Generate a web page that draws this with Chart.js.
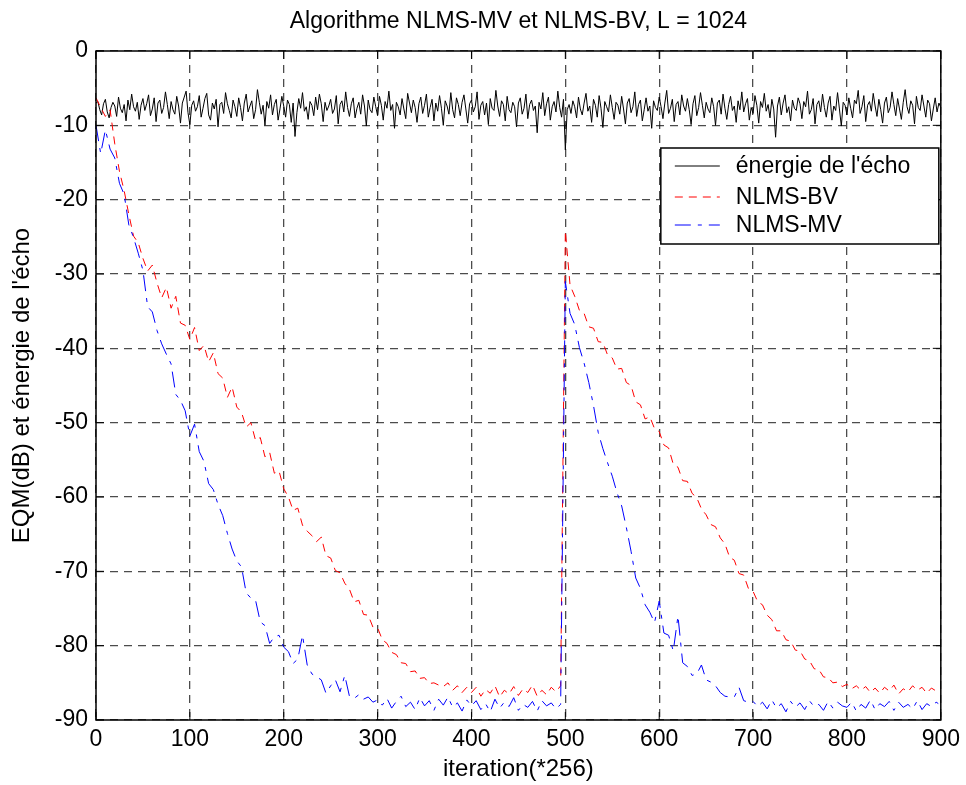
<!DOCTYPE html>
<html>
<head>
<meta charset="utf-8">
<script src="https://cdn.jsdelivr.net/npm/chart.js@4"></script>
<style>
  html, body { margin: 0; padding: 0; background: #fff; }
  #wrap { width: 966px; height: 785px; }
</style>
</head>
<body>
<div id="wrap"><canvas id="eqm"></canvas></div>
<script>
// sampling steps (iterations between stored points)
const STEP_ECHO = 2;
const STEP_EQM = 5;

const TITLE = 'Algorithme NLMS-MV et NLMS-BV, L = 1024';

// echo energy, dB (iter 0..900, every 2)
const echoDb = [
  -7.0, -6.8, -7.9, -8.6, -7.1, -6.5, -8.2, -9.0, -7.6, -6.9, -7.4, -8.8, -6.2, -7.7, -8.3, -7.2, -9.4, -6.6, -7.9, -5.8, -7.5, -8.1, -6.9, -9.2, -7.3,
  -6.4, -8.0, -7.1, -5.9, -8.7, -7.8, -6.3, -9.5, -7.0, -6.6, -8.4, -7.6, -5.5, -7.2, -9.1, -6.8, -7.9, -8.5, -6.1, -7.4, -9.7, -7.0, -6.2, -5.4, -8.3,
  -9.9, -7.3, -6.7, -8.1, -7.5, -6.0, -8.9, -7.7, -6.4, -5.7, -8.6, -9.3, -7.0, -7.8, -6.5, -10.2, -7.2, -6.9, -8.4, -5.6, -7.1, -8.0, -9.0, -6.6, -7.5,
  -8.8, -6.3, -7.6, -9.4, -7.0, -5.8, -8.2, -7.4, -6.7, -9.1, -7.9, -5.2, -6.9, -8.5, -7.3, -10.0, -6.8, -7.7, -5.9, -8.6, -7.2, -6.5, -9.3, -7.8, -6.1,
  -7.4, -8.9, -6.6, -7.2, -9.6, -7.0, -11.5, -8.3, -6.4, -7.7, -5.6, -8.1, -7.5, -9.2, -6.8, -7.3, -8.7, -6.2, -7.9, -5.8, -7.1, -9.5, -6.9, -8.0, -7.4,
  -6.5, -8.4, -7.8, -6.0, -9.8, -7.2, -6.7, -8.2, -5.5, -7.6, -8.8, -7.1, -6.3, -9.0, -7.7, -6.9, -8.5, -5.9, -7.4, -10.1, -6.6, -7.9, -8.3, -6.2, -7.5,
  -8.7, -6.1, -7.3, -9.3, -6.8, -7.7, -5.4, -8.0, -7.2, -10.4, -6.9, -7.5, -8.6, -6.4, -7.8, -9.1, -5.7, -7.0, -8.3, -6.6, -7.6, -9.6, -7.1, -6.2, -8.4,
  -7.3, -5.8, -8.9, -7.6, -6.5, -9.4, -7.0, -8.1, -6.0, -7.7, -10.0, -6.7, -7.4, -8.5, -5.6, -7.9, -9.0, -6.3, -7.2, -8.7, -6.9, -5.9, -7.8, -9.7, -7.1,
  -6.6, -8.2, -7.5, -5.5, -9.2, -7.3, -6.8, -8.6, -7.0, -9.9, -6.4, -7.7, -8.0, -5.3, -7.4, -8.8, -6.7, -7.2, -9.4, -6.1, -7.9, -8.3, -6.9, -7.5, -10.2,
  -7.0, -6.3, -8.5, -7.7, -5.8, -9.1, -7.2, -6.6, -8.0, -7.4, -11.0, -6.9, -7.8, -5.6, -8.7, -7.1, -6.2, -9.3, -7.5, -6.8, -8.2, -5.4, -7.6, -8.9, -6.5,
  -13.3, -7.9, -7.2, -8.4, -6.7, -7.5, -9.0, -6.2, -7.8, -8.6, -7.0, -5.7, -8.1, -7.4, -9.6, -6.5, -7.3, -8.9, -6.0, -7.7, -10.3, -6.8, -7.5, -8.2, -5.9,
  -7.6, -9.2, -6.9, -7.3, -8.5, -6.1, -7.8, -9.8, -7.0, -6.4, -8.3, -7.5, -5.5, -8.8, -7.2, -6.6, -9.4, -7.9, -6.3, -8.1, -7.4, -10.4, -6.7, -7.6, -8.0,
  -6.2, -7.5, -9.1, -7.0, -5.3, -8.4, -7.7, -6.5, -9.5, -7.2, -6.8, -8.6, -5.9, -7.4, -8.1, -6.4, -7.9, -9.9, -7.1, -6.0, -8.7, -7.6, -5.6, -7.3, -9.0,
  -6.9, -7.8, -8.3, -6.3, -7.5, -10.0, -7.0, -6.6, -8.5, -5.8, -7.7, -9.2, -7.2, -6.1, -8.0, -7.4, -9.6, -6.7, -7.9, -5.5, -8.2, -7.1, -6.4, -9.3, -7.6,
  -8.4, -6.0, -7.3, -9.7, -6.8, -7.6, -5.7, -8.1, -7.2, -9.0, -6.5, -7.8, -11.6, -7.4, -6.2, -8.6, -7.0, -5.9, -8.3, -7.5, -9.4, -6.6, -7.7, -8.0, -6.3,
  -7.1, -9.1, -6.8, -7.5, -5.4, -8.5, -7.9, -6.4, -9.8, -7.2, -6.7, -8.2, -5.8, -7.6, -8.9, -7.0, -6.1, -9.3, -7.4, -8.0, -5.6, -7.8, -10.1, -6.9, -7.3,
  -8.6, -6.3, -7.7, -9.0, -6.6, -7.1, -5.3, -8.4, -7.5, -6.0, -9.5, -7.3, -6.8, -8.1, -5.7, -7.4, -8.8, -6.5, -7.9, -9.7, -7.0, -6.2, -8.3, -7.6, -5.5,
  -7.2, -8.7, -6.4, -7.8, -9.2, -6.9, -5.2, -7.5, -8.4, -6.7, -7.3, -9.8, -6.1, -7.6, -8.0, -5.9, -7.4, -8.9, -6.6, -7.1, -9.4, -7.8, -6.3, -8.2, -7.0,
  -7.6
];

// NLMS-BV error, dB (iter 0..900, every 5)
const bvDb = [
  -6.3, -7.6, -8.8, -7.9, -12.5, -16.2, -18.8, -22.0, -24.9, -25.8, -27.9, -29.6, -28.8, -31.2, -33.2, -31.8, -34.6, -33.0, -36.6, -36.9,
  -38.8, -37.2, -40.3, -39.6, -41.8, -40.6, -43.4, -44.0, -46.6, -45.2, -47.9, -48.6, -50.6, -50.0, -52.4, -52.0, -54.6, -54.0, -56.8, -56.5,
  -58.9, -60.0, -61.8, -61.5, -63.8, -64.6, -65.2, -66.0, -65.4, -67.9, -68.2, -69.9, -70.2, -71.6, -72.4, -74.1, -73.9, -75.8, -75.9, -77.5,
  -77.6, -79.2, -79.7, -80.9, -81.2, -82.3, -82.4, -83.5, -83.4, -84.4, -84.3, -85.1, -85.0, -85.3, -85.5, -85.0, -86.0, -85.4, -86.3, -85.6,
  -86.3, -85.6, -86.8, -85.9, -86.4, -85.4, -86.9, -86.0, -86.5, -85.5, -86.7, -85.8, -86.3, -85.3, -86.8, -86.0, -86.6, -85.6, -86.2, -85.4,
  -24.2, -31.5, -33.0, -34.9, -35.3, -37.1, -37.3, -39.1, -39.2, -40.9, -41.3, -42.8, -42.7, -44.6, -45.0, -47.2, -47.6, -49.5, -49.2, -50.8,
  -51.2, -53.0, -53.4, -55.6, -56.0, -57.8, -57.9, -59.5, -60.1, -61.6, -62.4, -63.7, -64.0, -65.5, -66.3, -68.1, -68.5, -70.3, -70.5, -72.3,
  -72.7, -74.1, -74.5, -75.9, -76.5, -78.0, -78.0, -79.2, -79.4, -80.6, -80.7, -81.8, -82.0, -83.1, -83.2, -84.2, -84.3, -85.0, -84.9, -85.5,
  -85.2, -85.8, -85.4, -86.0, -85.5, -86.3, -85.7, -86.4, -85.6, -86.1, -85.3, -86.5, -85.8, -86.2, -85.4, -86.0, -85.6, -86.4, -85.7, -86.1,
  -85.8
];

// NLMS-MV error, dB (iter 0..900, every 5)
const mvDb = [
  -10.0, -13.8, -10.6, -13.2, -14.4, -17.8, -19.3, -23.4, -25.1, -27.2, -29.5, -34.4, -35.1, -37.6, -39.4, -40.8, -42.1, -46.2, -47.0, -48.4,
  -51.8, -50.2, -53.9, -55.2, -58.2, -59.0, -61.0, -62.5, -64.9, -67.0, -68.6, -69.4, -72.9, -73.6, -73.9, -76.8, -77.3, -79.7, -78.8, -78.6,
  -80.2, -80.8, -82.4, -81.8, -78.6, -82.6, -83.8, -84.2, -84.6, -86.4, -85.4, -84.6, -86.2, -84.0, -86.8, -87.1, -86.6, -87.2, -86.9, -87.6,
  -87.3, -88.0, -87.1, -88.4, -87.5, -86.8, -88.2, -87.6, -88.6, -87.0, -88.1, -87.4, -88.7, -87.2, -88.0, -86.9, -88.3, -87.7, -88.8, -87.3,
  -88.1, -87.4, -88.6, -87.8, -88.9, -87.2, -88.4, -87.6, -88.2, -87.0, -88.7, -87.9, -88.3, -87.5, -88.8, -87.4, -88.1, -87.7, -88.5, -87.9,
  -31.0, -35.3, -36.8, -39.9, -42.0, -44.6, -47.7, -51.3, -53.5, -55.4, -57.2, -59.4, -61.2, -64.1, -67.3, -70.9, -72.3, -74.5, -75.5, -76.9,
  -74.0, -78.3, -78.6, -80.7, -76.0, -82.3, -82.8, -84.0, -83.8, -82.6, -84.6, -84.9, -85.4, -86.3, -86.8, -86.9, -86.9, -85.6, -87.4, -87.6,
  -87.5, -88.2, -87.6, -88.5, -87.3, -88.4, -87.8, -88.9, -87.5, -88.3, -87.7, -88.6, -87.4, -88.2, -87.9, -88.7, -87.5, -88.4, -87.6, -88.1,
  -88.3, -87.6, -88.8, -87.9, -88.4, -87.3, -88.6, -87.8, -88.2, -87.5, -88.7, -87.6, -88.3, -87.9, -88.5, -87.4, -88.6, -87.8, -88.2, -87.6,
  -88.0
];

const FONT = "'Liberation Sans', Arial, sans-serif";

function toPoints(values, step) {
  return values.map((v, i) => ({ x: i * step, y: v }));
}

// title centred on the axes, box around the plot, inward ticks and the legend
const matlabFrame = {
  id: 'matlabFrame',
  afterDatasetsDraw(chart) {
    const { ctx, chartArea: a, scales } = chart;
    ctx.save();

    ctx.fillStyle = '#000';
    ctx.font = '23px ' + FONT;
    ctx.textAlign = 'center';
    ctx.textBaseline = 'middle';
    ctx.fillText(TITLE, (a.left + a.right) / 2, 22);

    ctx.strokeStyle = '#000';
    ctx.lineWidth = 1.5;
    ctx.setLineDash([]);
    ctx.strokeRect(a.left, a.top, a.right - a.left, a.bottom - a.top);

    ctx.lineWidth = 1;
    ctx.beginPath();
    scales.x.ticks.forEach(t => {
      const px = scales.x.getPixelForValue(t.value);
      ctx.moveTo(px, a.bottom); ctx.lineTo(px, a.bottom - 8);
      ctx.moveTo(px, a.top); ctx.lineTo(px, a.top + 8);
    });
    scales.y.ticks.forEach(t => {
      const py = scales.y.getPixelForValue(t.value);
      ctx.moveTo(a.left, py); ctx.lineTo(a.left + 8, py);
      ctx.moveTo(a.right, py); ctx.lineTo(a.right - 8, py);
    });
    ctx.stroke();

    // legend box, top right
    const bx = a.right - 280, by = a.top + 97, bw = 278, bh = 96;
    ctx.fillStyle = '#fff';
    ctx.fillRect(bx, by, bw, bh);
    ctx.lineWidth = 1.5;
    ctx.strokeRect(bx, by, bw, bh);
    ctx.font = '23px ' + FONT;
    ctx.textAlign = 'left';
    const rows = [18, 49, 77];
    chart.data.datasets.forEach((ds, i) => {
      const y = by + rows[i];
      ctx.strokeStyle = ds.borderColor;
      ctx.lineWidth = 1;
      ctx.setLineDash(ds.borderDash || []);
      ctx.beginPath();
      ctx.moveTo(bx + 14, y); ctx.lineTo(bx + 59, y);
      ctx.stroke();
      ctx.setLineDash([]);
      ctx.fillStyle = '#000';
      ctx.fillText(ds.label, bx + 75, y + 1);
    });
    ctx.restore();
  }
};

new Chart(document.getElementById('eqm'), {
  type: 'line',
  data: {
    datasets: [
      {
        label: "énergie de l'écho",
        data: toPoints(echoDb, STEP_ECHO),
        borderColor: '#000000',
        borderWidth: 1,
        order: 3
      },
      {
        label: 'NLMS-BV',
        data: toPoints(bvDb, STEP_EQM),
        borderColor: '#ff0000',
        borderWidth: 1,
        borderDash: [8, 6],
        order: 2
      },
      {
        label: 'NLMS-MV',
        data: toPoints(mvDb, STEP_EQM),
        borderColor: '#0000ff',
        borderWidth: 1,
        borderDash: [16, 7, 4, 7],
        order: 1
      }
    ]
  },
  options: {
    responsive: true,
    maintainAspectRatio: false,
    animation: false,
    events: [],
    elements: {
      point: { radius: 0 },
      line: { tension: 0 }
    },
    layout: {
      padding: { left: 0, right: 24, top: 51, bottom: 0 }
    },
    plugins: {
      legend: { display: false },
      tooltip: { enabled: false },
      title: { display: false }
    },
    scales: {
      x: {
        type: 'linear',
        min: 0,
        max: 900,
        ticks: {
          stepSize: 100,
          color: '#000',
          font: { family: FONT, size: 23 },
          padding: 6,
          maxRotation: 0
        },
        grid: {
          color: 'rgba(0,0,0,0.7)',
          lineWidth: 1.3,
          drawTicks: false
        },
        border: { display: false, dash: [8, 6] },
        title: {
          display: true,
          text: 'iteration(*256)',
          color: '#000',
          font: { family: FONT, size: 24 },
          padding: { top: 2, bottom: 1 }
        },
        afterFit(scale) { scale.height = 65; }
      },
      y: {
        min: -90,
        max: 0,
        ticks: {
          stepSize: 10,
          color: '#000',
          font: { family: FONT, size: 23 },
          padding: 8
        },
        grid: {
          color: 'rgba(0,0,0,0.7)',
          lineWidth: 1.3,
          drawTicks: false
        },
        border: { display: false, dash: [8, 6] },
        title: {
          display: true,
          text: "EQM(dB) et énergie de l'écho",
          color: '#000',
          font: { family: FONT, size: 24 },
          padding: { top: 8, bottom: 2 }
        },
        afterFit(scale) { scale.width = 96; }
      }
    }
  },
  plugins: [matlabFrame]
});
</script>
</body>
</html>
